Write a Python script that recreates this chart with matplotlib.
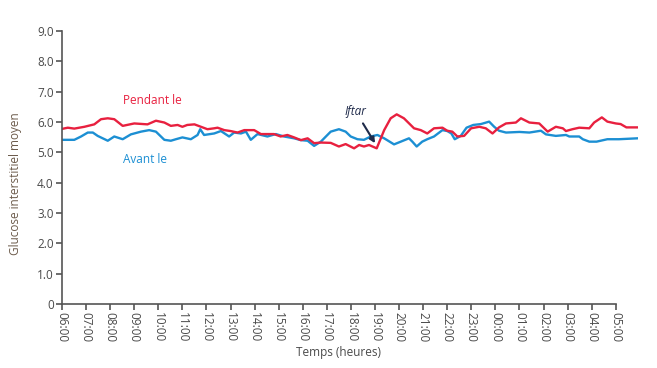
import matplotlib
matplotlib.use("Agg")
import matplotlib.pyplot as plt

# Hours after 06:00
hour_labels = ["06:00", "07:00", "08:00", "09:00", "10:00", "11:00", "12:00", "13:00",
               "14:00", "15:00", "16:00", "17:00", "18:00", "19:00", "20:00", "21:00",
               "22:00", "23:00", "00:00", "01:00", "02:00", "03:00", "04:00", "05:00"]
y_ticks = [0, 1, 2, 3, 4, 5, 6, 7, 8, 9]
y_tick_labels = ["0", "1.0", "2.0", "3.0", "4.0", "5.0", "6.0", "7.0", "8.0", "9.0"]

pendant_t = [0.0, 0.24, 0.51, 0.93, 1.34, 1.62, 1.9, 2.17, 2.52, 3.0, 3.55, 3.9, 4.25,
             4.52, 4.8, 5.0, 5.2, 5.5, 5.77, 6.04, 6.32, 6.46, 6.74, 7.0, 7.29, 7.57,
             7.98, 8.26, 8.8, 9.08, 9.36, 9.64, 9.92, 10.2, 10.47, 10.75, 11.16,
             11.5, 11.78, 12.13, 12.34, 12.54, 12.75, 13.07, 13.38, 13.65, 13.9, 14.2,
             14.62, 14.9, 15.17, 15.45, 15.8, 16.0, 16.21, 16.42, 16.7, 16.99, 17.33,
             17.6, 17.88, 18.15, 18.44, 18.85, 19.06, 19.41, 19.82, 20.17, 20.51, 20.8,
             20.93, 21.2, 21.48, 21.9, 22.1, 22.42, 22.65, 23.0, 23.2, 23.44, 23.9]
pendant_v = [5.77, 5.81, 5.78, 5.84, 5.92, 6.09, 6.12, 6.09, 5.87, 5.95, 5.92, 6.04, 5.98,
             5.87, 5.90, 5.84, 5.90, 5.92, 5.84, 5.76, 5.79, 5.81, 5.73, 5.70, 5.65, 5.73,
             5.73, 5.60, 5.60, 5.52, 5.57, 5.49, 5.40, 5.46, 5.30, 5.32, 5.31,
             5.19, 5.27, 5.13, 5.24, 5.19, 5.24, 5.13, 5.73, 6.12, 6.25, 6.12,
             5.79, 5.73, 5.62, 5.79, 5.81, 5.71, 5.68, 5.52, 5.54, 5.79, 5.84,
             5.79, 5.62, 5.82, 5.95, 5.98, 6.12, 5.98, 5.95, 5.68, 5.84, 5.79,
             5.70, 5.76, 5.81, 5.79, 5.98, 6.15, 6.01, 5.95, 5.93, 5.82, 5.82]

avant_t = [0.0, 0.51, 0.79, 1.07, 1.28, 1.48, 1.9, 2.17, 2.52, 2.86, 3.28, 3.62, 3.9,
           4.25, 4.52, 4.73, 5.0, 5.35, 5.63, 5.74, 5.9, 6.32, 6.6, 6.94, 7.15, 7.43,
           7.64, 7.84, 8.12, 8.53, 8.88, 9.22, 9.64, 9.92, 10.2, 10.47, 10.75, 10.96,
           11.16, 11.5, 11.78, 11.99, 12.27, 12.54, 12.82, 13.1, 13.38, 13.79, 14.07,
           14.41, 14.55, 14.73, 14.96, 15.17, 15.45, 15.8, 16.0, 16.17, 16.31, 16.56,
           16.8, 17.08, 17.4, 17.74, 17.95, 18.15, 18.44, 19.0, 19.41, 19.89, 20.1,
           20.51, 20.93, 21.07, 21.48, 21.63, 21.9, 22.2, 22.65, 23.13, 23.9]
avant_v = [5.41, 5.41, 5.52, 5.65, 5.65, 5.54, 5.38, 5.52, 5.43, 5.59, 5.68, 5.73, 5.68,
           5.41, 5.38, 5.43, 5.49, 5.43, 5.57, 5.76, 5.57, 5.62, 5.70, 5.52, 5.65, 5.62,
           5.68, 5.41, 5.60, 5.52, 5.60, 5.52, 5.46, 5.40, 5.38, 5.21, 5.35, 5.52,
           5.68, 5.76, 5.68, 5.52, 5.43, 5.41, 5.52, 5.57, 5.46, 5.26, 5.35,
           5.46, 5.35, 5.19, 5.35, 5.43, 5.52, 5.73, 5.70, 5.62, 5.43, 5.54,
           5.81, 5.90, 5.93, 6.01, 5.84, 5.71, 5.65, 5.67, 5.65, 5.71, 5.59,
           5.54, 5.57, 5.52, 5.52, 5.43, 5.35, 5.35, 5.43, 5.43, 5.46]

red = "#E8203F"
blue = "#1C8FD3"
grey = "#555555"

plt.rcParams["font.family"] = ["Open Sans", "DejaVu Sans"]

fig = plt.figure(figsize=(6.57, 3.68), dpi=100)
ax = fig.add_axes([0.0944, 0.174, 0.8766, 0.742])

ax.plot(avant_t, avant_v, color=blue, lw=1.7, solid_joinstyle="round")
ax.plot(pendant_t, pendant_v, color=red, lw=1.7, solid_joinstyle="round")

ax.set_xlim(0, 23.92)
ax.set_ylim(0, 9)
ax.set_xticks(range(len(hour_labels)))
ax.set_xticklabels(hour_labels, rotation=270, fontsize=8.5, color="#4a4a4a")
ax.set_yticks(y_ticks)
ax.set_yticklabels(y_tick_labels, fontsize=8.5, color="#4a4a4a")

for s in ["top", "right"]:
    ax.spines[s].set_visible(False)
for s in ["left", "bottom"]:
    ax.spines[s].set_color(grey)
    ax.spines[s].set_linewidth(1.2)
ax.spines["bottom"].set_bounds(0, 23)
ax.tick_params(axis="both", direction="out", length=4, width=1.2, color=grey, pad=2)

ax.set_xlabel("Temps (heures)", fontsize=8.5, color="#4a4a4a")
ax.xaxis.set_label_coords(0.48, -0.155)
ax.set_ylabel("Glucose interstitiel moyen", fontsize=8.5, color="#6b5a4a")
ax.yaxis.set_label_coords(-0.07, 0.44)

ax.text(2.55, 6.58, "Pendant le", color=red, fontsize=8.5)
ax.text(2.55, 4.65, "Avant le", color=blue, fontsize=8.5)

ax.annotate("Iftar", xy=(13.0, 5.3), xytext=(11.75, 6.22), fontsize=8.5, style="italic",
            color="#1f2a4a",
            arrowprops=dict(arrowstyle="-|>", color="#1f2a4a", lw=1.5,
                            shrinkA=2, shrinkB=0, mutation_scale=8))

fig.savefig("out.png", dpi=100)
